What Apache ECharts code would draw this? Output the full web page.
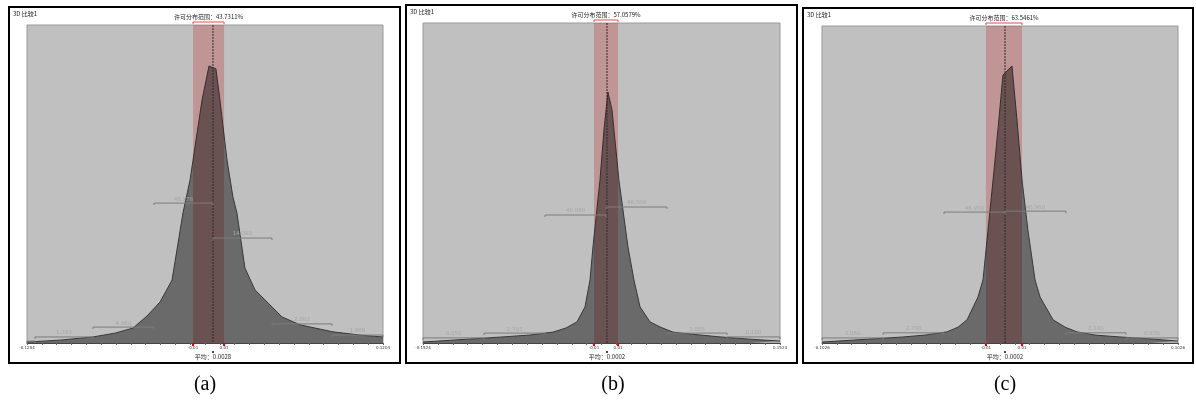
<!DOCTYPE html>
<html>
<head>
<meta charset="utf-8">
<script src="https://cdn.jsdelivr.net/npm/echarts@6/dist/echarts.min.js"></script>
<style>
  html, body { margin: 0; background: #fff; }
  #main { width: 1196px; height: 406px; }
</style>
</head>
<body>
<div id="main"></div>
<script>
// (a)
const aRange = [-0.1204, 0.1204];
const aX = [-0.1204, -0.0981, -0.0758, -0.0609, -0.0487, -0.0392, -0.0304, -0.0223, -0.0149, -0.0101, -0.0081, -0.0020, 0.0027, 0.0074, 0.0101, 0.0149, 0.0189, 0.0216, 0.0270, 0.0338, 0.0521, 0.0643, 0.0866, 0.1048, 0.1204];
const aY = [0.3, 0.9, 1.9, 3.1, 4.7, 8.5, 12.9, 19.8, 40.9, 51.3, 57.5, 76.4, 87.1, 86.2, 76.4, 57.5, 45.9, 40.9, 23.6, 16.7, 8.2, 5.7, 3.5, 2.5, 1.9];
const aBand = [-0.0081, 0.0129];
const aMean = 0.0054;
const aMeanText = '0.0028';
const aCover = '43.7311%';
const aEdges = [-0.1204, -0.1150, -0.0758, -0.0345, 0.0054, 0.0453, 0.0859, 0.1204];
const aLevels = [0.6, 1.9, 5.0, 44.0, 33.0, 6.0, 2.5];
const aLabels = ['', '1.393', '4.060', '48.278', '14.088', '2.082', '1.908'];

// (b)
const bRange = [-0.1524, 0.1524];
const bX = [-0.1524, -0.0841, -0.0610, -0.0414, -0.0303, -0.0209, -0.0141, -0.0098, -0.0073, -0.0013, 0.0021, 0.0055, 0.0090, 0.0115, 0.0149, 0.0226, 0.0277, 0.0329, 0.0414, 0.0500, 0.0610, 0.0756, 0.1012, 0.1268, 0.1524];
const bY = [0.3, 1.9, 2.5, 3.4, 4.7, 6.6, 11.3, 19.7, 30.0, 50.9, 66.6, 78.4, 72.8, 63.4, 50.9, 30.0, 19.7, 11.3, 6.6, 5.0, 3.4, 2.8, 1.9, 1.2, 0.6];
const bBand = [-0.0064, 0.0141];
const bMean = 0.0047;
const bMeanText = '0.0002';
const bCover = '57.0579%';
const bEdges = [-0.1524, -0.1003, -0.0482, 0.0039, 0.0560, 0.1072, 0.1524];
const bLevels = [1.6, 3.1, 40.0, 42.5, 3.1, 1.9];
const bLabels = ['0.050', '2.703', '40.088', '48.506', '2.885', '0.160'];

// (c)
const cRange = [-0.1026, 0.1026];
const cX = [-0.1026, -0.0559, -0.0432, -0.0306, -0.0242, -0.0190, -0.0127, -0.0098, -0.0069, -0.0040, -0.0012, 0.0017, 0.0069, 0.0098, 0.0127, 0.0161, 0.0202, 0.0231, 0.0306, 0.0375, 0.0444, 0.0548, 0.0692, 0.0865, 0.1026];
const cY = [0.3, 1.9, 2.5, 3.5, 5.0, 7.3, 14.5, 19.9, 35.6, 51.4, 67.2, 84.5, 87.4, 70.3, 51.4, 35.6, 19.9, 14.5, 7.3, 5.0, 3.5, 2.5, 1.9, 1.3, 0.6];
const cBand = [-0.0081, 0.0127];
const cMean = 0.0029;
const cMeanText = '0.0002';
const cCover = '63.5461%';
const cEdges = [-0.1026, -0.0674, -0.0323, 0.0029, 0.0380, 0.0726, 0.1026];
const cLevels = [1.6, 3.2, 41.3, 41.6, 3.2, 1.6];
const cLabels = ['0.060', '2.700', '46.950', '46.960', '2.180', '0.830'];

const panels = [
  { range: aRange, xs: aX, ys: aY, band: aBand, mean: aMean, meanText: aMeanText, cover: aCover, edges: aEdges, levels: aLevels, labels: aLabels,
    grid: { left: 27, top: 25, width: 356, height: 318 }, frame: [9, 7, 391, 356], cap: '(a)', capX: 205 },
  { range: bRange, xs: bX, ys: bY, band: bBand, mean: bMean, meanText: bMeanText, cover: bCover, edges: bEdges, levels: bLevels, labels: bLabels,
    grid: { left: 423, top: 23, width: 357, height: 320 }, frame: [406, 5, 391, 358], cap: '(b)', capX: 613 },
  { range: cRange, xs: cX, ys: cY, band: cBand, mean: cMean, meanText: cMeanText, cover: cCover, edges: cEdges, levels: cLevels, labels: cLabels,
    grid: { left: 822, top: 26, width: 356, height: 317 }, frame: [803, 8, 390, 355], cap: '(c)', capX: 1005 }
];

const cjk = '"Noto Sans CJK SC", sans-serif';
const grids = [], xAxes = [], yAxes = [], series = [], graphics = [];

panels.forEach((p, i) => {
  grids.push(Object.assign({ show: true, backgroundColor: '#c0c0c0', borderColor: '#9a9a9a', borderWidth: 1 }, p.grid));

  const ticks = [];
  for (let k = 0; k <= 24; k++) ticks.push(p.range[0] + (p.range[1] - p.range[0]) * k / 24);

  xAxes.push({
    gridIndex: i, type: 'value', min: p.range[0], max: p.range[1],
    splitLine: { show: false },
    axisLine: { show: true, lineStyle: { color: '#444', width: 1 } },
    axisTick: { show: true, customValues: ticks, length: 2, lineStyle: { color: '#666' } },
    axisLabel: {
      customValues: [p.range[0], p.band[0], p.band[1], p.range[1]],
      formatter: v => (v === p.range[0] || v === p.range[1]) ? v.toFixed(4) : v.toFixed(2),
      fontSize: 4, color: '#333', margin: 3, fontFamily: 'DejaVu Sans'
    }
  });
  yAxes.push({ gridIndex: i, type: 'value', min: 0, max: 100, show: false });

  // distribution
  series.push({
    type: 'line', xAxisIndex: i, yAxisIndex: i, z: 2,
    data: p.xs.map((x, k) => [x, p.ys[k]]),
    symbol: 'none', smooth: false,
    lineStyle: { color: '#383838', width: 1 },
    areaStyle: { color: '#6a6a6a', opacity: 1 }
  });

  // permitted band (tinted over everything)
  series.push({
    type: 'custom', xAxisIndex: i, yAxisIndex: i, z: 3, blendMode: 'multiply',
    encode: { x: [0, 1] },
    data: [[p.band[0], p.band[1]]],
    renderItem: (params, api) => {
      const p0 = api.coord([api.value(0), 100]);
      const p1 = api.coord([api.value(1), 0]);
      return { type: 'rect', shape: { x: p0[0], y: p0[1], width: p1[0] - p0[0], height: p1[1] - p0[1] },
        style: { fill: 'rgb(255,198,198)' } };
    }
  });

  // red range bracket, edge markers and coverage text
  series.push({
    type: 'custom', xAxisIndex: i, yAxisIndex: i, z: 4,
    encode: { x: [0, 1] },
    data: [[p.band[0], p.band[1]]],
    renderItem: (params, api) => {
      const t0 = api.coord([api.value(0), 100]);
      const t1 = api.coord([api.value(1), 100]);
      const b0 = api.coord([api.value(0), 0]);
      const b1 = api.coord([api.value(1), 0]);
      const y = t0[1] - 3;
      return { type: 'group', children: [
        { type: 'polyline', shape: { points: [[t0[0], y + 2], [t0[0], y], [t1[0], y], [t1[0], y + 2]] },
          style: { stroke: '#e84a4a', lineWidth: 1, fill: null } },
        { type: 'circle', shape: { cx: b0[0], cy: b0[1] + 2, r: 1.2 }, style: { fill: '#e00' } },
        { type: 'circle', shape: { cx: b1[0], cy: b1[1] + 2, r: 1.2 }, style: { fill: '#e00' } },
        { type: 'text', style: { text: '许可分布范围：' + p.cover, x: (t0[0] + t1[0]) / 2, y: y - 2,
          align: 'center', verticalAlign: 'bottom', fontSize: 6, fill: '#222', fontFamily: cjk } }
      ] };
    }
  });

  // mean line
  series.push({
    type: 'custom', xAxisIndex: i, yAxisIndex: i, z: 5,
    data: [[p.mean, 0]],
    renderItem: (params, api) => {
      const top = api.coord([api.value(0), 100]);
      const bot = api.coord([api.value(0), 0]);
      return { type: 'group', children: [
        { type: 'line', shape: { x1: top[0], y1: top[1], x2: bot[0], y2: bot[1] },
          style: { stroke: '#2a2a2a', lineWidth: 1, lineDash: [2, 1] } },
        { type: 'circle', shape: { cx: bot[0], cy: bot[1] + 9, r: 1 }, style: { fill: '#111' } },
        { type: 'text', style: { text: '平均：' + p.meanText, x: bot[0], y: bot[1] + 14,
          align: 'center', verticalAlign: 'middle', fontSize: 6, fill: '#222', fontFamily: cjk } }
      ] };
    }
  });

  // section brackets
  series.push({
    type: 'custom', xAxisIndex: i, yAxisIndex: i, z: 6,
    encode: { x: [0, 1], y: 2 },
    data: p.levels.map((lv, k) => [p.edges[k], p.edges[k + 1], lv]),
    renderItem: (params, api) => {
      const l = api.coord([api.value(0), api.value(2)]);
      const r = api.coord([api.value(1), api.value(2)]);
      return { type: 'group', children: [
        { type: 'polyline', shape: { points: [[l[0], l[1] + 2], [l[0], l[1]], [r[0], r[1]], [r[0], r[1] + 2]] },
          style: { stroke: '#7c7c7c', lineWidth: 1, fill: null } },
        { type: 'text', style: { text: p.labels[params.dataIndex], x: (l[0] + r[0]) / 2, y: l[1] - 1,
          align: 'center', verticalAlign: 'bottom', fontSize: 5.5, fill: '#a6a6a6', fontFamily: 'DejaVu Sans' } }
      ] };
    }
  });

  const f = p.frame;
  graphics.push({ type: 'rect', shape: { x: f[0], y: f[1], width: f[2], height: f[3] },
    style: { fill: null, stroke: '#000', lineWidth: 2 }, z: 10 });
  graphics.push({ type: 'text', x: f[0] + 4, y: f[1] + 4,
    style: { text: '3D 比较1', fontSize: 6, fill: '#222', fontFamily: cjk } });
  graphics.push({ type: 'text', x: p.capX, y: 385,
    style: { text: p.cap, fontSize: 20, fill: '#000', fontFamily: '"Liberation Serif", serif', align: 'center', verticalAlign: 'middle' } });
});

const chart = echarts.init(document.getElementById('main'));
chart.setOption({
  animation: false,
  backgroundColor: '#fff',
  grid: grids,
  xAxis: xAxes,
  yAxis: yAxes,
  series: series,
  graphic: graphics
});
window.addEventListener('resize', () => chart.resize());
</script>
</body>
</html>
